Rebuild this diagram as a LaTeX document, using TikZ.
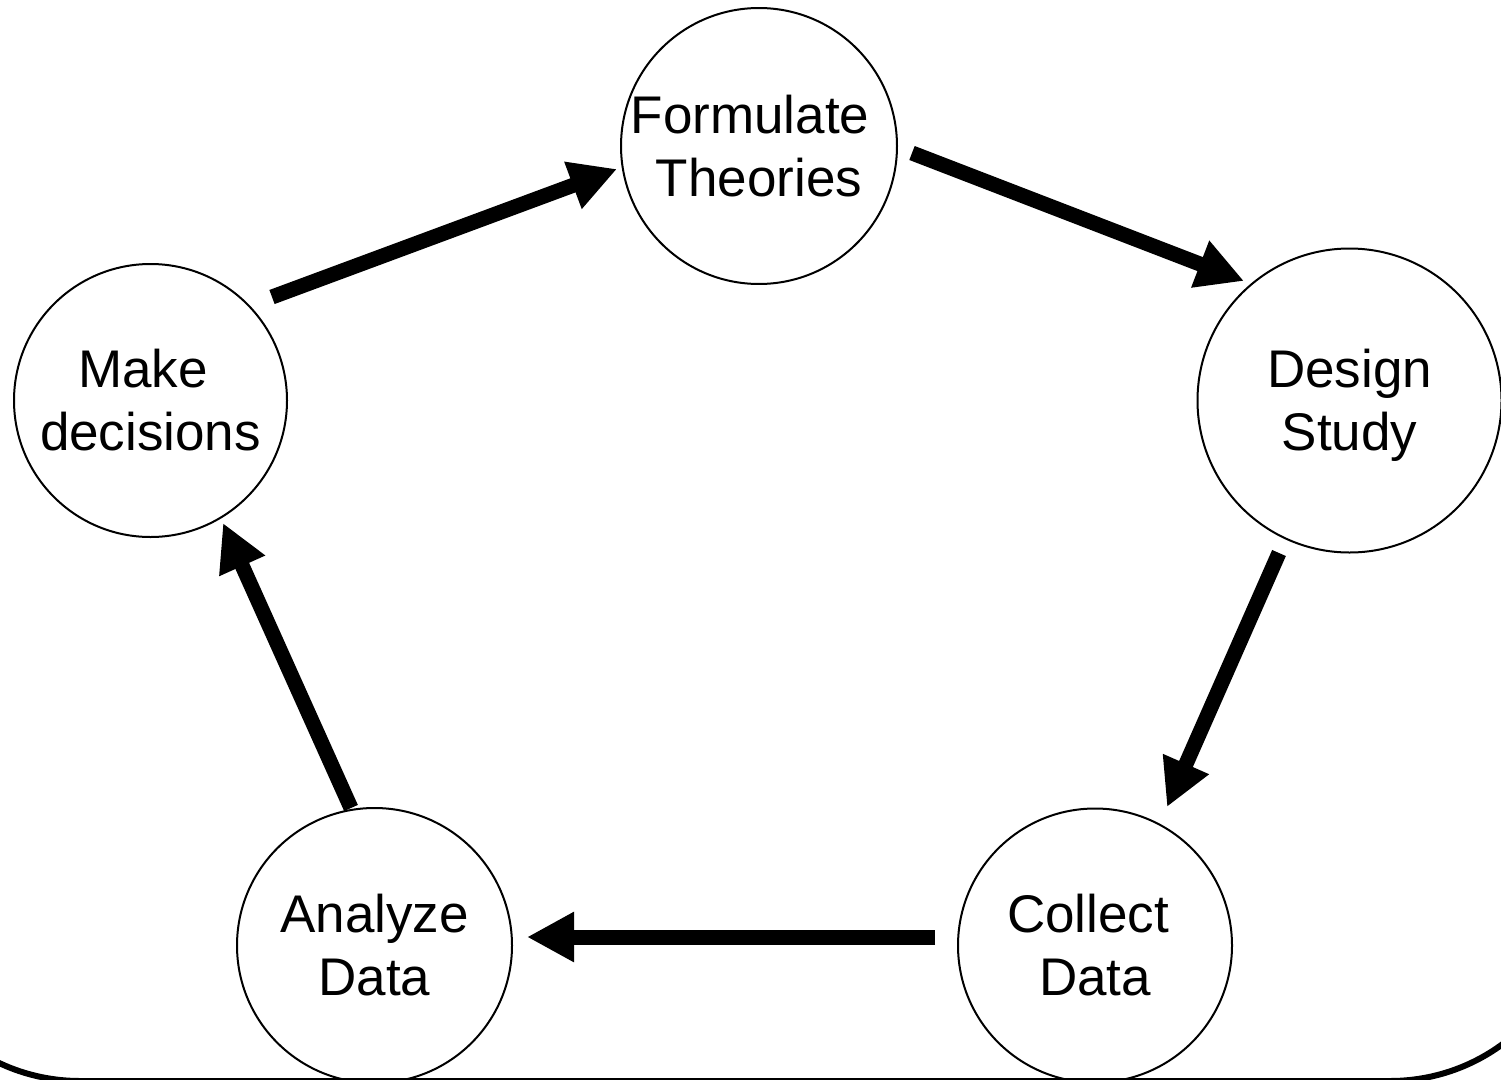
\documentclass[tikz,border=0pt]{standalone}
\usepackage{fontspec}
\setmainfont{Liberation Sans}
\usetikzlibrary{arrows.meta}
\tikzset{
  stage/.style={draw=black, line width=2pt, circle, inner sep=0pt, align=center,
    font=\fontsize{53}{63}\selectfont},
  flow/.style={line width=15pt, -{Triangle[length=47pt,width=47pt]}},
  frame/.style={line width=6pt, rounded corners=190pt}
}
\begin{document}
\begin{tikzpicture}[x=1pt,y=-1pt]
\useasboundingbox (0,0) rectangle (1501,1079);
\fill[white] (0,0) rectangle (1501,1079);
% frame
\draw[frame] (-110,600) -- (-110,1081) -- (1580,1081) -- (1580,600);
% stages
\node[stage, minimum size=272pt] (form) at (759,146) {Formulate\kern18pt\\Theories};
\node[stage, minimum size=304pt] (design) at (1349.5,400.5) {Design\\Stud\smash{y}};
\node[stage, minimum size=274pt] (collect) at (1095,945.5) {Collect\kern14pt\\Data};
\node[stage, minimum size=275pt] (analyze) at (374.5,945.5) {Analyze\\Data};
\node[stage, minimum size=273pt] (make) at (150.5,400.5) {Make\kern15pt\\decisions};
% connector ends
\coordinate (a1s) at (272,297);   \coordinate (a1e) at (617,169);
\coordinate (a2s) at (912,153);   \coordinate (a2e) at (1244,281);
\coordinate (a3s) at (1279,553);  \coordinate (a3e) at (1167,807);
\coordinate (a4s) at (935,937);   \coordinate (a4e) at (527,937);
\coordinate (a5s) at (351,808);   \coordinate (a5e) at (223,523);
\draw[flow] (a1s) -- (a1e);
\draw[flow] (a2s) -- (a2e);
\draw[flow] (a3s) -- (a3e);
\draw[flow] (a4s) -- (a4e);
\draw[flow] (a5s) -- (a5e);
\end{tikzpicture}
\end{document}
